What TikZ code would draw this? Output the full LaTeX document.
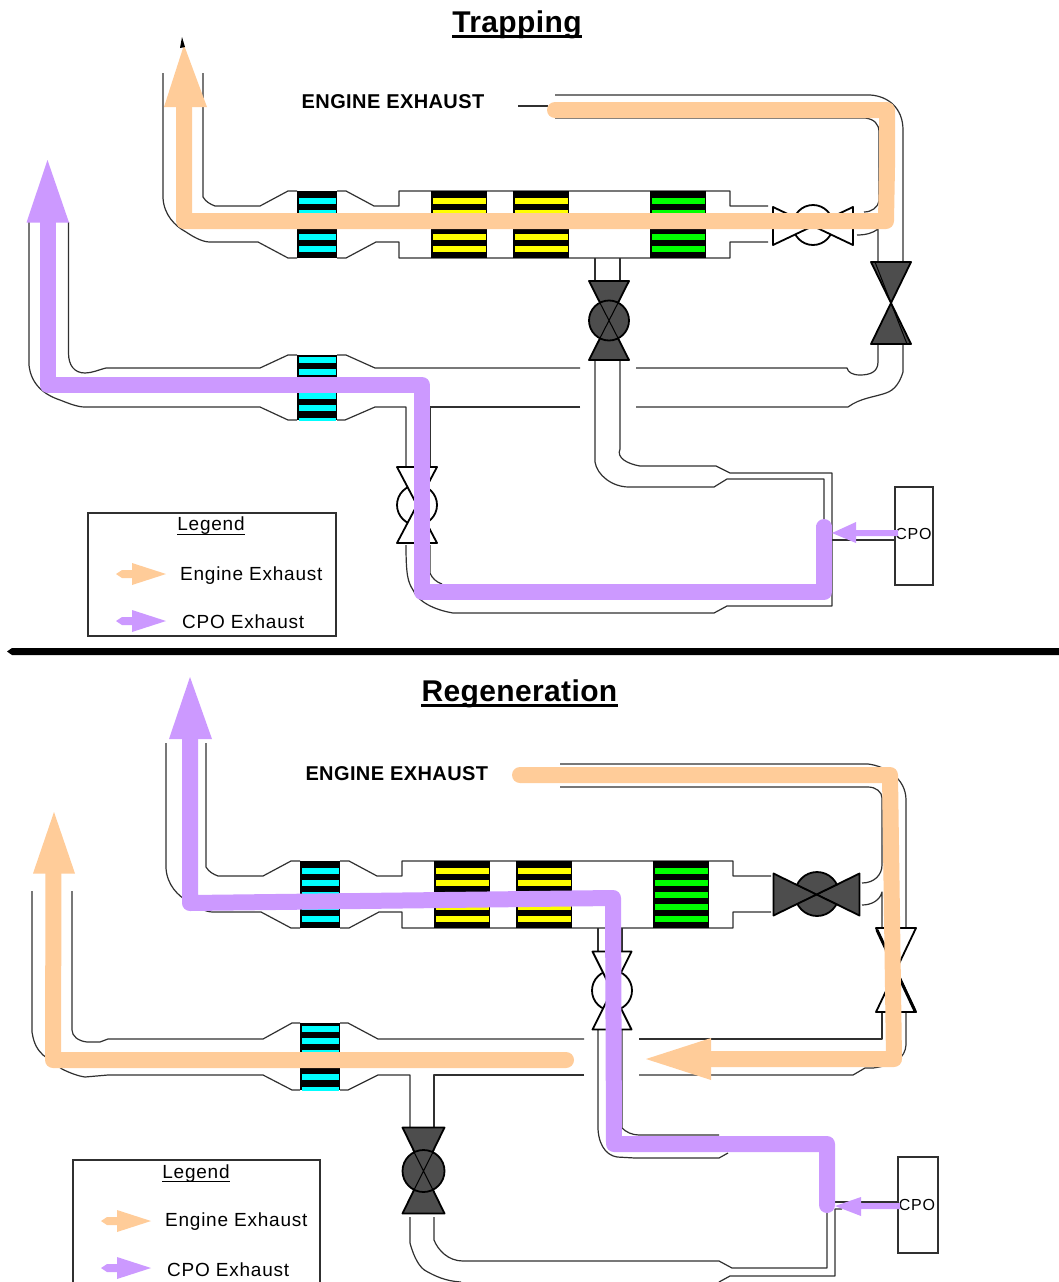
\documentclass[tikz,border=0pt]{standalone}
\usepackage{fontspec}
\setmainfont{Liberation Sans}
\definecolor{engC}{HTML}{FFCC99}
\definecolor{cpoC}{HTML}{CC99FF}
\definecolor{valveC}{HTML}{4D4D4D}
\definecolor{pipeC}{HTML}{303030}
\definecolor{catCyan}{HTML}{00FFFF}
\definecolor{catYellow}{HTML}{FFFF00}
\definecolor{catGreen}{HTML}{00FF00}
\newcommand{\catblock}[7]{% x1 x2 y1 y2 colour firstbar count
  \fill[black] (#1,#3) rectangle (#2,#4);
  \begin{scope}
    \clip (#1,#3) rectangle (#2,#4);
    \foreach \k in {1,...,#7}{
      \pgfmathsetmacro{\ya}{#6+(\k-1)*12.1}
      \fill[#5] (#1+1.5,\ya) rectangle (#2-1.5,\ya+6);
    }
  \end{scope}}
\newcommand{\bowV}[5]{\draw[line width=1.8pt,line join=round,fill=#5] (#1-#3,#2-#4)--(#1+#3,#2-#4)--(#1-#3,#2+#4)--(#1+#3,#2+#4)--cycle;}
\newcommand{\bowH}[5]{\draw[line width=1.8pt,line join=round,fill=#5] (#1-#3,#2-#4)--(#1+#3,#2+#4)--(#1+#3,#2-#4)--(#1-#3,#2+#4)--cycle;}
\newcommand{\legarrow}[3]{%
  \fill[#3] (#1,#2)--(#1+6,#2-4)--(#1+16,#2-4)--(#1+16,#2-11)--(#1+50,#2)--(#1+16,#2+11)--(#1+16,#2+4)--(#1+6,#2+4)--cycle;}
\tikzset{
  pipe/.style={draw=pipeC,line width=1.2pt,line join=round},
  flowline/.style={line width=16pt,line join=round,line cap=butt},
  boxline/.style={draw=pipeC,line width=1.3pt},
  legtext/.style={font=\fontsize{19}{21}\selectfont\addfontfeature{LetterSpace=4},inner sep=0pt,anchor=base west},
  legtitle/.style={font=\fontsize{19}{21}\selectfont\addfontfeature{LetterSpace=4},inner sep=0pt,anchor=base},
  titletext/.style={font=\fontsize{30}{32}\bfseries\selectfont\addfontfeature{LetterSpace=1.2},inner sep=0pt,anchor=base},
  enginetext/.style={font=\fontsize{20}{22}\bfseries\selectfont\addfontfeature{LetterSpace=2},inner sep=0pt,anchor=base},
  cpotext/.style={font=\fontsize{16}{18}\selectfont\addfontfeature{LetterSpace=5},inner sep=0pt,anchor=base},
}
\newcommand{\upperrow}{%
  \draw[pipe] (163,73)--(163,198) .. controls (164,215) and (175,226) .. (186,232) .. controls (195,238) and (203,242) .. (210,242) --(258,242)--(288,258)--(297,258);
  \draw[pipe] (203,73)--(203,197) .. controls (206,202) and (210,204) .. (215,206) --(260,206)--(288,191)--(297,191);
  \draw[pipe] (337,191)--(346,191)--(374,206)--(399,206)--(399,191)--(730,191)--(730,206)--(768,206);
  \draw[pipe] (337,258)--(346,258)--(376,242)--(399,242)--(399,258)--(730,258)--(730,242)--(768,242);
  \catblock{297}{337}{191}{258}{catCyan}{198}{5}
  \catblock{431}{487}{191}{258}{catYellow}{198}{5}
  \catblock{513}{569}{191}{258}{catYellow}{198}{5}
  \catblock{650}{706}{191}{258}{catGreen}{198}{5}
}
\begin{document}
\begin{tikzpicture}[x=1pt,y=-1pt]
\useasboundingbox (0,0) rectangle (1059,1282);
\fill[white] (0,0) rectangle (1059,1282);

%%%%%%%%%%%%%%%%%%%%%%%%%% TRAPPING
\node[titletext] (t1) at (517,32) {Trapping};
\draw[line width=2.6pt] ([yshift=-4.5pt]t1.base west)--([yshift=-4.5pt]t1.base east);
\node[enginetext] (e1) at (393,108.3) {ENGINE EXHAUST};
\upperrow
\draw[pipe] (595,258)--(595,281) (620,258)--(620,281);
% inlet loop
\draw[pipe] (518,106)--(548,106);
\draw[pipe] (555,95)--(870,95) .. controls (888,96) and (903,108) .. (903,130) --(903,262);
\draw[pipe] (555,118)--(865,118) .. controls (874,119) and (879,124) .. (879,132) --(879,201) .. controls (878,207) and (872,212) .. (864,212);
\draw[pipe] (857,235) .. controls (866,235) and (873,233) .. (878,229) --(878,262);
% below right valve
\draw[pipe] (878,344)--(878,362) .. controls (878,372) and (870,375) .. (860,375) .. controls (852,375) and (848,372) .. (847,368) --(636,368);
\draw[pipe] (903,344)--(903,372) .. controls (900,382) and (895,390) .. (886,393) .. controls (875,397) and (860,398) .. (848,407) --(636,407);
% lower row
\draw[pipe] (580,368)--(375,368)--(346,355)--(337,355);
\draw[pipe] (297,355)--(288,355)--(260,368)--(106,368) .. controls (98,370) and (92,373) .. (85,373) .. controls (74,373) and (68.5,365) .. (68.5,353) --(68.5,222);
\draw[pipe] (29,222)--(29,365) .. controls (31,385) and (45,395) .. (60,400) .. controls (70,404) and (78,407) .. (85,407) --(260,407)--(288,420)--(297,420);
\draw[pipe] (337,420)--(345,420)--(375,407)--(406,407)--(406,467);
\draw[pipe] (580,407)--(430,407)--(430,467);
\catblock{297}{337}{355}{420}{catCyan}{357}{6}
% stem from middle valve to CPO
\draw[pipe] (595,360)--(595,462) .. controls (597,475) and (612,487) .. (629,487) --(714,487)--(727,479)--(824,479)--(824,525);
\draw[pipe] (620,360)--(620,449) .. controls (616,458) and (628,464) .. (640,466) --(716,466)--(730,473)--(832,473)--(832,606)--(727,606)--(714,613)--(453,613) .. controls (435,610) and (418,602) .. (413,590) .. controls (408,582) and (406,576) .. (406,545);
\draw[pipe] (430,545)--(430,573) .. controls (432,578) and (436,582) .. (442,584);
% CPO
\draw[boxline,fill=white] (895,487) rectangle (933,585);
\draw[pipe] (832,540)--(895,540);
\node[cpotext] (c1) at (913.5,539.5) {CPO};
% valves
\bowV{609}{320.5}{20}{39.5}{valveC}
\draw[line width=1.8pt,fill=valveC] (609,320.5) circle[radius=20pt];
\draw[line width=1pt] (599,301)--(619,340) (619,301)--(599,340);
\bowV{891}{303}{20}{41}{valveC}
\draw[line width=1pt] (875,262)--(907,344);
\draw[line width=1.8pt] (813,225) circle[radius=20pt];
\bowH{813}{226}{40}{19}{white}
\draw[line width=1.8pt] (417,505) circle[radius=20pt];
\bowV{417}{505}{20}{38}{white}
% flows
\draw[flowline,engC] (555,110)--(887,110)--(887,167)--(886,221)--(184,221)--(184,105);
\fill[engC] (555,102) arc[start angle=90,end angle=270,radius=8pt]--cycle;
\fill[engC] (184,45)--(207,107)--(164,107)--cycle;
\fill[black] (182,37)--(185,47)--(180,48)--cycle;
\draw[flowline,cpoC] (824,525)--(824,592)--(422,592)--(422,385)--(47.5,385)--(47.5,220);
\fill[cpoC] (816,527) arc[start angle=180,end angle=0,radius=8pt]--cycle;
\fill[cpoC] (47.5,160)--(69,222.5)--(26.5,222.5)--cycle;
\fill[cpoC] (898,530)--(856,530)--(856,522)--(832,533)--(856,543)--(856,536)--(898,536)--cycle;
% legend
\draw[boxline] (88,513) rectangle (336,636);
\node[legtitle] (l1) at (211,530.7) {Legend};
\draw[line width=1.2pt] ([yshift=-3.5pt]l1.base west)--([yshift=-3.5pt]l1.base east);
\legarrow{116}{574}{engC}
\legarrow{116}{621}{cpoC}
\node[legtext] (l2) at (180,580.7) {Engine Exhaust};
\node[legtext] (l3) at (182,628.5) {CPO Exhaust};

% separator
\fill[black] (7,651.5)--(12,648)--(1059,648)--(1059,655)--(12,655)--cycle;

%%%%%%%%%%%%%%%%%%%%%%%%%% REGENERATION
\node[titletext] (t2) at (519.5,701) {Regeneration};
\draw[line width=2.6pt] ([yshift=-4.5pt]t2.base west)--([yshift=-4.5pt]t2.base east);
\node[enginetext] (e2) at (396.8,780) {ENGINE EXHAUST};
\begin{scope}[shift={(3,670)}]
\upperrow
\end{scope}
\draw[pipe] (598,928)--(598,951) (622,928)--(622,951);
% inlet loop
\draw[pipe] (560,764)--(868,764) .. controls (885,766) and (906,778) .. (906,800) --(906,928);
\draw[pipe] (560,787)--(868,787) .. controls (876,787) and (882,792) .. (882,798) --(882,865) .. controls (882,875) and (874,883) .. (862,883);
\draw[pipe] (862,905) .. controls (872,905) and (880,900) .. (882,892) --(882,928);
% below right valve
\draw[pipe] (882,1012)--(882,1039)--(639,1039);
\draw[pipe] (906,1012)--(906,1045) .. controls (905,1058) and (895,1065) .. (873,1068) --(865,1068)--(853,1075)--(639,1075);
% lower row
\draw[pipe] (584,1039)--(378,1039)--(348,1023)--(340,1023);
\draw[pipe] (300,1023)--(292,1023)--(263,1039)--(108,1039)--(100,1042)--(87,1042) .. controls (78,1041) and (72,1036) .. (72,1030) --(72,891);
\draw[pipe] (32,891)--(32,1032) .. controls (34,1045) and (38,1050) .. (43,1055) --(62,1069) .. controls (70,1073) and (78,1076) .. (85,1077) --(108,1075)--(263,1075)--(292,1090)--(300,1090);
\draw[pipe] (340,1090)--(348,1090)--(378,1075)--(410,1075)--(410,1127);
\draw[pipe] (584,1075)--(434,1075)--(434,1127);
\catblock{300}{340}{1023}{1090}{catCyan}{1026}{6}
% stems
\draw[pipe] (598,1030)--(598,1122) .. controls (597,1143) and (605,1155) .. (617,1157) --(635,1158)--(719,1158)--(728,1153);
\draw[pipe] (622,1030)--(622,1128) .. controls (626,1132) and (632,1135) .. (639,1135) --(719,1135);
\draw[pipe] (434,1217)--(434,1240) .. controls (438,1250) and (448,1261) .. (463,1261) --(719,1261)--(732,1268)--(827,1268)--(827,1212);
\draw[pipe] (410,1217)--(410,1243) .. controls (414,1258) and (420,1268) .. (426,1271) .. controls (435,1276) and (445,1281) .. (461,1282);
\draw[pipe] (719,1282)--(730,1276)--(835,1276)--(835,1209)--(842,1209);
% CPO
\draw[boxline,fill=white] (898,1157) rectangle (938,1253);
\draw[pipe] (835,1202)--(898,1202);
\node[cpotext] (c2) at (917,1210) {CPO};
% valves
\draw[line width=1.8pt,fill=valveC] (817,894) circle[radius=22pt];
\bowH{816.5}{894.5}{43}{21}{valveC}
\draw[line width=1pt] (795,884)--(839,905) (795,905)--(839,884);
\draw[line width=1.8pt] (612,990.5) circle[radius=20pt];
\bowV{612}{990.5}{19.5}{39}{white}
\bowV{896}{970}{20}{42}{white}
\draw[line width=3pt] (877,930)--(915,1011);
\bowV{423.5}{1170.5}{21}{43}{valveC}
\draw[line width=1.8pt,fill=valveC] (423.5,1171) circle[radius=21pt];
\draw[line width=1pt] (413,1150)--(434,1192) (434,1150)--(413,1192);
% flows
\draw[flowline,engC] (520,775)--(890,775)--(894,1059)--(710,1059);
\fill[engC] (520,767) arc[start angle=90,end angle=270,radius=8pt]--cycle;
\fill[engC] (646,1059)--(711,1038)--(711,1080)--cycle;
\draw[flowline,engC] (566,1060)--(53,1060)--(53.5,871);
\fill[engC] (566,1052) arc[start angle=90,end angle=-90,radius=8pt]--cycle;
\fill[engC] (54,812)--(75,873.5)--(33,873.5)--cycle;
\draw[flowline,cpoC] (827,1205)--(827,1144)--(614,1144)--(613,898)--(190,903)--(190,736);
\fill[cpoC] (819,1205) arc[start angle=180,end angle=360,radius=8pt]--cycle;
\fill[cpoC] (190,677)--(212,739)--(169,739)--cycle;
\fill[cpoC] (900,1203)--(861,1203)--(861,1197)--(835,1206)--(861,1216)--(861,1209)--(900,1209)--cycle;
% legend
\draw[boxline] (73,1160) rectangle (320,1290);
\node[legtitle] (l4) at (196,1178) {Legend};
\draw[line width=1.2pt] ([yshift=-3.5pt]l4.base west)--([yshift=-3.5pt]l4.base east);
\legarrow{101}{1221}{engC}
\legarrow{101}{1268}{cpoC}
\node[legtext] (l5) at (165,1226.7) {Engine Exhaust};
\node[legtext] (l6) at (167,1276.7) {CPO Exhaust};
\end{tikzpicture}
\end{document}
